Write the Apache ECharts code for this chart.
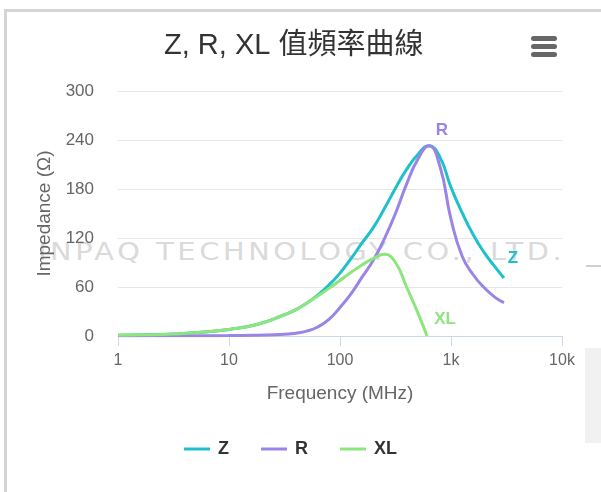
<!DOCTYPE html>
<html>
<head>
<meta charset="utf-8">
<title>Z, R, XL 值頻率曲線</title>
<script src="https://cdn.jsdelivr.net/npm/echarts@6/dist/echarts.min.js"></script>
<style>
  html, body { margin: 0; padding: 0; background: #fff; }
  #wrap { position: relative; width: 601px; height: 492px; overflow: hidden; }
  #frame {
    position: absolute; left: 4px; top: 9px; right: 0; bottom: 0;
    border-top: 3px solid #d4d4d4; border-left: 3px solid #d4d4d4;
  }
  #mark {
    position: absolute; left: 38px; top: 238px;
    font: 24px "DejaVu Sans", sans-serif; letter-spacing: 3px;
    color: #dadada; white-space: nowrap;
    transform: scaleX(1.2); transform-origin: left top;
  }
  #dash { position: absolute; left: 586px; top: 265px; width: 15px; height: 2px; background: #d0d0d0; }
  #side {
    position: absolute; left: 585px; top: 348px; width: 16px; height: 95px;
    background: #f1f1f1;
  }
  #chart { position: absolute; left: 0; top: 0; width: 601px; height: 492px; }
</style>
</head>
<body>
<div id="wrap">
  <div id="frame"></div>
  <div id="mark">INPAQ TECHNOLOGY CO., LTD.</div>
  <div id="dash"></div>
  <div id="side"></div>
  <div id="chart"></div>
</div>
<script>
// frequency (MHz) and impedance (ohm)
const freq = [1, 1.78, 3.16, 5.62, 10, 17.8, 31.6, 39.8, 50, 63, 79, 100, 126, 158, 200, 251, 316, 398, 501, 631, 794, 1000, 1259, 1585, 1995, 2512, 3000];
const zValues = [0.8, 1.4, 2.5, 4.5, 8, 14, 26, 32, 40, 50, 62, 77, 95, 114, 133, 156, 181, 204, 222, 233, 219, 182, 151, 124, 102, 84, 71];
const rValues = [0.3, 0.3, 0.3, 0.4, 0.5, 1, 2, 3.5, 6, 11, 20, 35, 52, 72, 93, 119, 150, 186, 216, 233, 208, 143, 98, 75, 59, 47, 41];

const freqXL = [1, 1.78, 3.16, 5.62, 10, 17.8, 31.6, 39.8, 50, 63, 79, 100, 126, 158, 200, 251, 316, 398, 501, 608];
const xlValues = [0.8, 1.4, 2.5, 4.5, 8, 14, 26, 32, 40, 49, 58, 68, 78, 87, 95, 100, 90, 60, 29, 0];

const seriesNames = ["Z", "R", "XL"];
const xTickLabels = ["1", "10", "100", "1k", "10k"];

const colors = { Z: "#1ec0c9", R: "#9a84e6", XL: "#8ce67c" };
const font = '"Liberation Sans", "Noto Sans CJK TC", sans-serif';

function pairs(xs, ys) {
  return xs.map((x, i) => [x, ys[i]]);
}

// label point for each series (index into its arrays) + pixel offset
function tag(name, xs, ys, idx, offset) {
  return {
    symbol: "circle",
    symbolSize: 1,
    itemStyle: { color: "rgba(0,0,0,0)" },
    label: {
      show: true,
      position: "inside",
      formatter: name,
      offset: offset,
      color: colors[name],
      fontSize: 17,
      fontWeight: "bold",
      fontFamily: font,
    },
    data: [{ coord: [xs[idx], ys[idx]] }],
  };
}

function line(name, xs, ys, markPoint) {
  return {
    name: name,
    type: "line",
    smooth: 0.5,
    showSymbol: false,
    symbol: "none",
    data: pairs(xs, ys),
    lineStyle: { width: 3, color: colors[name] },
    itemStyle: { color: colors[name] },
    emphasis: { disabled: true },
    markPoint: markPoint,
  };
}

const chart = echarts.init(document.getElementById("chart"), null, { renderer: "canvas" });

chart.setOption({
  animation: false,
  backgroundColor: "transparent",
  textStyle: { fontFamily: font },
  title: {
    text: "Z, R, XL 值頻率曲線",
    left: 159,
    top: 26,
    textStyle: { fontSize: 29, fontWeight: "normal", color: "#333", fontFamily: font },
  },
  legend: {
    data: seriesNames,
    left: 179,
    top: 435,
    icon: "rect",
    itemWidth: 26,
    itemHeight: 3,
    itemGap: 32,
    textStyle: { fontSize: 18, fontWeight: "bold", color: "#333", fontFamily: font, padding: [0, 0, 0, 3] },
  },
  grid: {
    left: 118,
    right: 39,
    top: 91,
    bottom: 156,
    containLabel: false,
    outerBoundsMode: "none",
  },
  xAxis: {
    type: "log",
    logBase: 10,
    min: 1,
    max: 10000,
    name: "Frequency (MHz)",
    nameLocation: "middle",
    nameGap: 48,
    nameTextStyle: { fontSize: 19, color: "#666", fontFamily: font },
    axisLine: { show: true, lineStyle: { color: "#ccd6eb", width: 1 } },
    axisTick: { show: true, length: 10, lineStyle: { color: "#ccd6eb" } },
    minorTick: { show: false },
    splitLine: { show: false },
    axisLabel: {
      fontSize: 16,
      color: "#666",
      margin: 17,
      formatter: (v) => xTickLabels[Math.round(Math.log10(v))],
    },
  },
  yAxis: {
    type: "value",
    min: 0,
    max: 300,
    interval: 60,
    name: "Impedance (Ω)",
    nameLocation: "middle",
    nameGap: 63,
    nameRotate: 90,
    nameTextStyle: { fontSize: 19, color: "#666", fontFamily: font },
    axisLine: { show: false },
    axisTick: { show: false },
    splitLine: { lineStyle: { color: "#e6e6e6", width: 1 } },
    axisLabel: { fontSize: 17, color: "#666", margin: 24 },
  },
  graphic: [
    // export menu icon
    {
      type: "group",
      left: 531,
      top: 36,
      children: [
        { type: "rect", shape: { x: 0, y: 0, width: 26, height: 5, r: 2.5 }, style: { fill: "#666" } },
        { type: "rect", shape: { x: 0, y: 8, width: 26, height: 5, r: 2.5 }, style: { fill: "#666" } },
        { type: "rect", shape: { x: 0, y: 16, width: 26, height: 5, r: 2.5 }, style: { fill: "#666" } },
      ],
    },
  ],
  series: [
    line("Z", freq, zValues, tag("Z", freq, zValues, freq.length - 1, [9, -20])),
    line("R", freq, rValues, tag("R", freq, rValues, 19, [13, -15])),
    line("XL", freqXL, xlValues, tag("XL", freqXL, xlValues, freqXL.length - 1, [18, -17])),
  ],
});
</script>
</body>
</html>
